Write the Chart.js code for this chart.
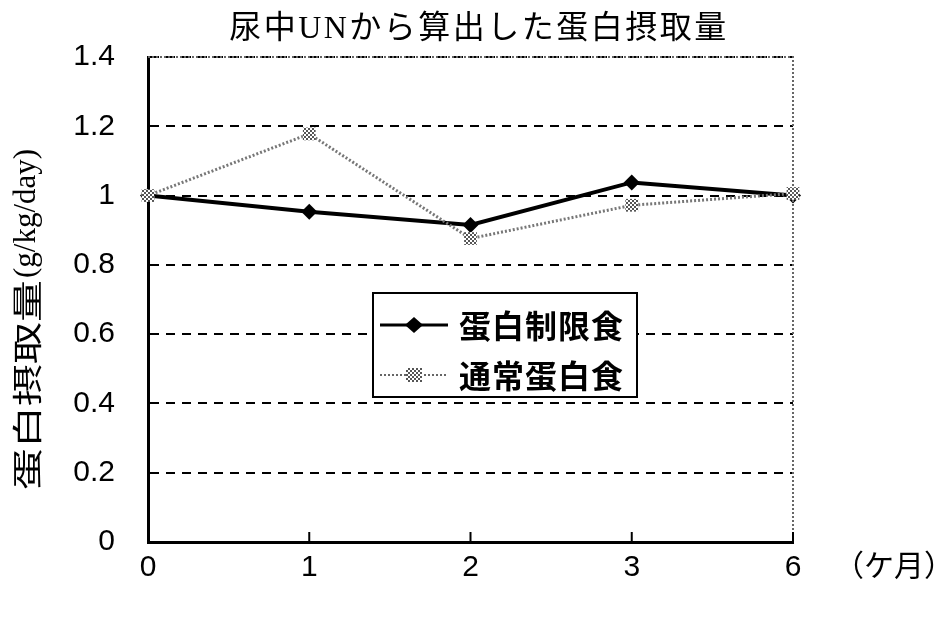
<!DOCTYPE html>
<html lang="ja">
<head>
    <meta charset="UTF-8">
    <title>尿中UNから算出した蛋白摂取量</title>
    <script src="https://cdn.jsdelivr.net/npm/chart.js"></script>
    <style>
        body { margin: 0; background: #fff; }
        #wrap { width: 943px; height: 617px; }
    </style>
</head>
<body>
    <div id="wrap">
        <canvas id="proteinChart" width="943" height="617"></canvas>
    </div>

    <script>
        const months = ['0', '1', '2', '3', '6'];
        const restricted = [1.0, 0.953, 0.915, 1.038, 1.0];
        const normal = [1.0, 1.178, 0.876, 0.972, 1.006];
        const seriesNames = ['蛋白制限食', '通常蛋白食'];
        const chartTitle = '尿中UNから算出した蛋白摂取量';
        const yTitle = ['蛋白摂取量', '(g/kg/day)'];
        const xUnit = '（ケ月）';

        // small checkered pattern for the grey markers
        function makeHatch() {
            const c = document.createElement('canvas');
            c.width = 4;
            c.height = 4;
            const g = c.getContext('2d');
            g.fillStyle = '#fff';
            g.fillRect(0, 0, 4, 4);
            g.fillStyle = '#555';
            g.fillRect(0, 0, 2, 2);
            g.fillRect(2, 2, 2, 2);
            return g.createPattern(c, 'repeat');
        }
        const hatch = makeHatch();

        const extras = {
            id: 'extras',
            afterDraw(chart) {
                const ctx = chart.ctx;
                const a = chart.chartArea;
                const x = chart.scales.x;
                ctx.save();
                // dotted top and right frame
                ctx.strokeStyle = '#666';
                ctx.lineWidth = 2;
                ctx.setLineDash([2, 2]);
                ctx.beginPath();
                ctx.moveTo(a.left, a.top);
                ctx.lineTo(a.right, a.top);
                ctx.lineTo(a.right, a.bottom);
                ctx.stroke();
                ctx.setLineDash([]);
                // inward x ticks
                ctx.strokeStyle = '#000';
                ctx.lineWidth = 2;
                for (let i = 1; i < months.length; i++) {
                    const px = x.getPixelForValue(i);
                    ctx.beginPath();
                    ctx.moveTo(px, a.bottom);
                    ctx.lineTo(px, a.bottom - 10);
                    ctx.stroke();
                }

                ctx.fillStyle = '#000';
                ctx.textBaseline = 'middle';

                // title
                ctx.font = '32px "Liberation Serif", "Noto Sans CJK JP"';
                ctx.textAlign = 'left';
                ctx.letterSpacing = '2.5px';
                const tw = ctx.measureText(chartTitle).width;
                ctx.fillText(chartTitle, 479 - tw / 2, 30);

                // y title, rotated, drawn bottom to top, glyphs stretched along the text
                ctx.save();
                ctx.translate(27, 490);
                ctx.rotate(-Math.PI / 2);
                ctx.textAlign = 'left';
                ctx.letterSpacing = '0px';
                ctx.save();
                ctx.scale(1.4, 1);
                ctx.font = '30px "Noto Sans CJK JP"';
                ctx.fillText(yTitle[0], 0, 0);
                const w0 = ctx.measureText(yTitle[0]).width * 1.4;
                ctx.restore();
                ctx.font = '31px "Liberation Serif"';
                ctx.fillText(yTitle[1], w0 + 2, 0);
                ctx.restore();

                // unit label
                ctx.font = '30px "Noto Sans CJK JP"';
                ctx.textAlign = 'left';
                ctx.letterSpacing = '0px';
                ctx.fillText(xUnit, 834, 565);

                // legend box
                const bx = 373, by = 293, bw = 264, bh = 104;
                ctx.fillStyle = '#fff';
                ctx.fillRect(bx, by, bw, bh);
                ctx.strokeStyle = '#000';
                ctx.lineWidth = 2;
                ctx.strokeRect(bx, by, bw, bh);
                const rows = [325, 375];
                // row 1
                ctx.lineWidth = 3;
                ctx.beginPath();
                ctx.moveTo(380, rows[0]);
                ctx.lineTo(448, rows[0]);
                ctx.stroke();
                ctx.fillStyle = '#000';
                ctx.beginPath();
                ctx.moveTo(414, rows[0] - 8);
                ctx.lineTo(423, rows[0]);
                ctx.lineTo(414, rows[0] + 8);
                ctx.lineTo(405, rows[0]);
                ctx.closePath();
                ctx.fill();
                // row 2
                ctx.strokeStyle = '#666';
                ctx.lineWidth = 2;
                ctx.setLineDash([2, 2]);
                ctx.beginPath();
                ctx.moveTo(380, rows[1]);
                ctx.lineTo(448, rows[1]);
                ctx.stroke();
                ctx.setLineDash([]);
                ctx.fillStyle = hatch;
                ctx.fillRect(406, rows[1] - 7, 16, 14);
                // labels
                ctx.fillStyle = '#000';
                ctx.font = 'bold 32px "Noto Sans CJK JP"';
                ctx.letterSpacing = '1px';
                ctx.fillText(seriesNames[0], 459, rows[0] + 1);
                ctx.fillText(seriesNames[1], 459, rows[1] + 1);
                ctx.restore();
            }
        };

        new Chart(document.getElementById('proteinChart').getContext('2d'), {
            type: 'line',
            data: {
                labels: months,
                datasets: [
                    {
                        label: seriesNames[1],
                        data: normal,
                        borderColor: '#777',
                        borderWidth: 3,
                        borderDash: [2, 2],
                        pointStyle: 'rect',
                        pointRadius: 9,
                        pointBackgroundColor: hatch,
                        pointBorderWidth: 0,
                        tension: 0,
                        clip: false
                    },
                    {
                        label: seriesNames[0],
                        data: restricted,
                        borderColor: '#000',
                        borderWidth: 4,
                        pointStyle: 'rectRot',
                        pointRadius: 8,
                        pointBackgroundColor: '#000',
                        pointBorderWidth: 0,
                        tension: 0,
                        clip: false
                    }
                ]
            },
            options: {
                responsive: false,
                animation: false,
                layout: { padding: { top: 57, right: 150, bottom: 23, left: 0 } },
                plugins: {
                    legend: { display: false },
                    tooltip: { enabled: false },
                    title: { display: false }
                },
                scales: {
                    x: {
                        offset: false,
                        grid: { display: false, drawTicks: false },
                        border: { color: '#000', width: 3 },
                        ticks: {
                            color: '#000',
                            padding: 8,
                            font: { family: '"Liberation Sans", Arial', size: 30 }
                        }
                    },
                    y: {
                        min: 0,
                        max: 1.4,
                        afterFit: s => { s.width = 148; },
                        grid: {
                            color: '#000',
                            lineWidth: 2,
                            drawTicks: false
                        },
                        border: { color: '#000', width: 3, dash: [9, 7] },
                        ticks: {
                            stepSize: 0.2,
                            color: '#000',
                            padding: 33,
                            font: { family: '"Liberation Sans", Arial', size: 30 },
                            callback: v => String(+v.toFixed(1))
                        }
                    }
                }
            },
            plugins: [extras]
        });
    </script>
</body>
</html>
